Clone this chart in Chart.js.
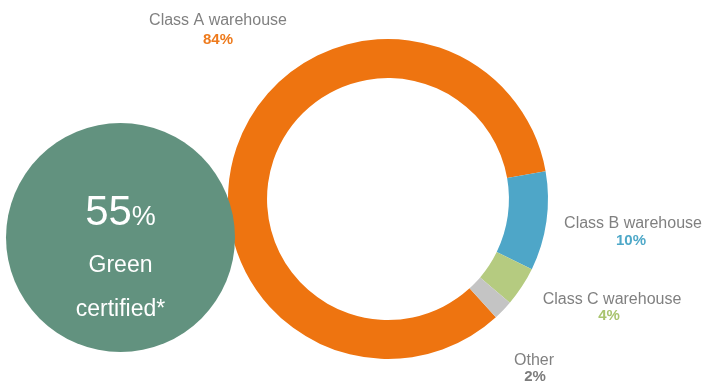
<!DOCTYPE html>
<html><head><meta charset="UTF-8"><title>Warehouse classes</title>
<script src="https://cdn.jsdelivr.net/npm/chart.js"></script>
<style>
  html, body { margin: 0; padding: 0; background: #fff; }
  #wrap { position: relative; width: 705px; height: 383px; }
</style></head><body>
<div id="wrap"><canvas id="donut" width="705" height="383"></canvas></div>
<script>
// --- data ---
const categories = ['Class A warehouse', 'Class B warehouse', 'Class C warehouse', 'Other'];
const shares = [84, 10, 4, 2];
const shareLabels = ['84%', '10%', '4%', '2%'];
const greenShare = '55';
const greenText = ['Green', 'certified*'];

// --- styles ---
const sliceColors = ['#ee7410', '#4ea6c8', '#b5cb80', '#c4c4c4'];
const pctColors = ['#ee7a1c', '#4ea8c8', '#a9c46e', '#7c7c7c'];
const font = '"Liberation Sans", Arial, sans-serif';

// label spots (x of name, x of pct, baseline of name, baseline of pct)
const labelSpots = [
  [218, 218, 25, 44],
  [633, 631, 228, 245],
  [612, 609, 304, 320],
  [534, 535, 365, 381]
];

const extras = {
  id: 'extras',
  afterDraw(chart) {
    const ctx = chart.ctx;
    ctx.save();
    // slice labels
    categories.forEach((name, i) => {
      const s = labelSpots[i];
      ctx.textAlign = 'center';
      ctx.textBaseline = 'alphabetic';
      ctx.fillStyle = '#808080';
      ctx.font = '16px ' + font;
      ctx.fillText(name, s[0], s[2]);
      ctx.fillStyle = pctColors[i];
      ctx.font = 'bold 15px ' + font;
      ctx.fillText(shareLabels[i], s[1], s[3]);
    });

    // green certified bubble
    const cx = 120.5, cy = 237.5, r = 114.5;
    ctx.beginPath();
    ctx.arc(cx, cy, r, 0, Math.PI * 2);
    ctx.fillStyle = '#62927f';
    ctx.fill();

    ctx.fillStyle = '#ffffff';
    ctx.textBaseline = 'alphabetic';
    ctx.font = '42px ' + font;
    const wNum = ctx.measureText(greenShare).width;
    ctx.font = '27px ' + font;
    const wPct = ctx.measureText('%').width;
    let x0 = cx - (wNum + wPct) / 2;
    ctx.textAlign = 'left';
    ctx.font = '42px ' + font;
    ctx.fillText(greenShare, x0, 225);
    ctx.font = '27px ' + font;
    ctx.fillText('%', x0 + wNum, 225);

    ctx.textAlign = 'center';
    ctx.font = '23px ' + font;
    ctx.fillText(greenText[0], cx, 272);
    ctx.fillText(greenText[1], cx, 316);
    ctx.restore();
  }
};

new Chart(document.getElementById('donut'), {
  type: 'doughnut',
  data: {
    labels: categories,
    datasets: [{
      data: shares,
      backgroundColor: sliceColors,
      borderWidth: 0,
      hoverOffset: 0
    }]
  },
  options: {
    responsive: false,
    animation: false,
    rotation: 137.6,
    cutout: '75.6%',
    layout: { padding: { left: 228, right: 157, top: 39, bottom: 24 } },
    plugins: { legend: { display: false }, tooltip: { enabled: false } }
  },
  plugins: [extras]
});
</script>
</body></html>
